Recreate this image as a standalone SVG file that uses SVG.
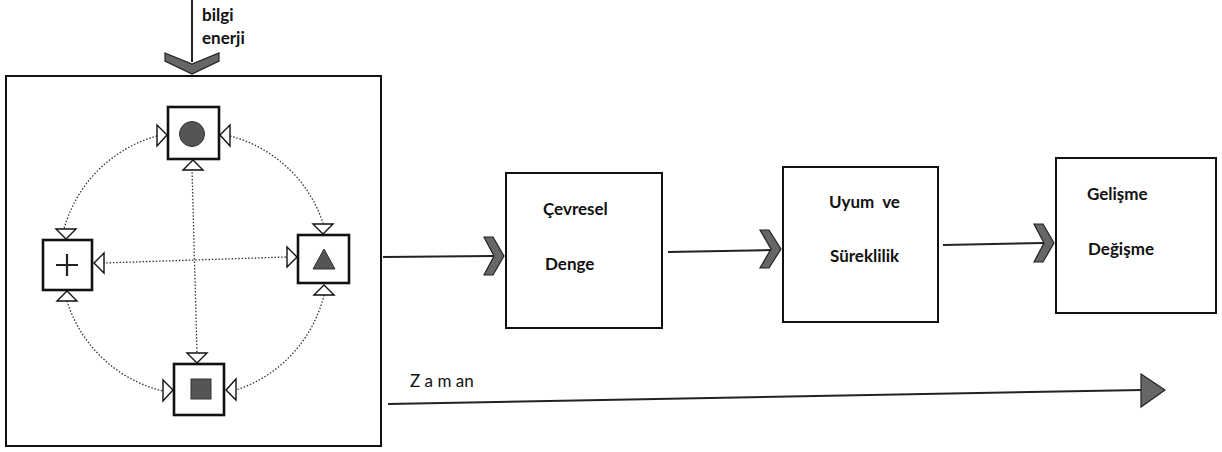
<svg xmlns="http://www.w3.org/2000/svg" width="1222" height="452" viewBox="0 0 1222 452">
<style>
.box{fill:#fff;stroke:#111;stroke-width:2}
.node{fill:#fff;stroke:#111;stroke-width:2.6}
.dot{fill:none;stroke:#333;stroke-width:1.3;stroke-dasharray:1.5 1.8}
.head{fill:#fff;stroke:#111;stroke-width:1.4;stroke-linejoin:miter}
.chev{fill:#666;stroke:#222;stroke-width:1.2;stroke-linejoin:miter}
.line{fill:none;stroke:#222;stroke-width:2}
.fill{fill:#555;stroke:#333;stroke-width:1}
text{font-family:Lato,"Liberation Sans",sans-serif;font-size:17px;font-weight:700;fill:#111}
text.plain{font-weight:400;font-size:17px}
</style>
<rect width="1222" height="452" fill="#fff"/>

<g id="input">
<line class="line" x1="192" y1="0" x2="192" y2="62"/>
<polygon class="chev" points="165,53 192,64 219,53 219,61 192,74 165,61"/>
<text x="202" y="21">bilgi</text>
<text x="202" y="44">enerji</text>
</g>

<g id="system">
<rect class="box" x="6" y="76" width="375" height="370"/>
</g>

<g id="connectors-inner">
<path class="dot" d="M192,169 L197,353"/>
<path class="dot" d="M103,263 L286,257"/>
<path class="dot" d="M157,136 A133 133 0 0 0 64,229"/>
<path class="dot" d="M230,136 A133 133 0 0 1 323,223"/>
<path class="dot" d="M324,295 A133 133 0 0 1 236,390"/>
<path class="dot" d="M67,301 A133 133 0 0 0 163,391"/>
</g>

<g id="node-circle">
<rect class="node" x="168" y="107" width="51" height="52"/>
<circle class="fill" cx="192" cy="134" r="12.5"/>
<polygon class="head" points="157,125 167,135 157,146"/>
<polygon class="head" points="230,125 220,135 230,146"/>
<polygon class="head" points="183,170 193,160 203,170"/>
</g>

<g id="node-plus">
<rect class="node" x="43" y="240" width="49" height="50"/>
<path d="M56,265 H78 M67,254 V276" stroke="#222" stroke-width="2.2" fill="none"/>
<polygon class="head" points="56,229 76,229 66,239"/>
<polygon class="head" points="104,253 94,263 104,273"/>
<polygon class="head" points="57,301 67,291 77,301"/>
</g>

<g id="node-triangle">
<rect class="node" x="298" y="235" width="51" height="48"/>
<polygon class="fill" points="313,269 324,249 335,269"/>
<polygon class="head" points="313,224 333,224 323,234"/>
<polygon class="head" points="287,247 297,257 287,267"/>
<polygon class="head" points="314,295 324,285 334,295"/>
</g>

<g id="node-square">
<rect class="node" x="174" y="364" width="50" height="51"/>
<rect class="fill" x="191" y="379" width="20" height="20"/>
<polygon class="head" points="187,353 207,353 197,363"/>
<polygon class="head" points="163,380 173,390 163,401"/>
<polygon class="head" points="236,379 226,390 236,400"/>
</g>

<g id="connectors">
<line class="line" x1="383" y1="257" x2="493" y2="256"/>
<polygon class="chev" points="484,237 493,237 504,256 493,275 484,275 494,256"/>
<line class="line" x1="668" y1="252" x2="771" y2="250"/>
<polygon class="chev" points="760,230 769,230 781,249 769,268 760,268 771,249"/>
<line class="line" x1="943" y1="245" x2="1044" y2="243"/>
<polygon class="chev" points="1034,224 1043,224 1054,243 1043,262 1034,262 1044,243"/>
<line class="line" x1="388" y1="404" x2="1142" y2="390"/>
<polygon points="1141,374 1165,390 1141,407" fill="#666" stroke="#222" stroke-width="1.2"/>
<text class="plain" x="410" y="387">Z a m an</text>
</g>

<g id="node-cevresel">
<rect class="box" x="506" y="173" width="156" height="155"/>
<text x="543" y="215">Çevresel</text>
<text x="545" y="270">Denge</text>
</g>

<g id="node-uyum">
<rect class="box" x="783" y="167" width="155" height="155"/>
<text x="829" y="208" xml:space="preserve">Uyum  ve</text>
<text x="830" y="262">Süreklilik</text>
</g>

<g id="node-gelisme">
<rect class="box" x="1056" y="158" width="160" height="155"/>
<text x="1087" y="200">Gelişme</text>
<text x="1088" y="255">Değişme</text>
</g>
</svg>
